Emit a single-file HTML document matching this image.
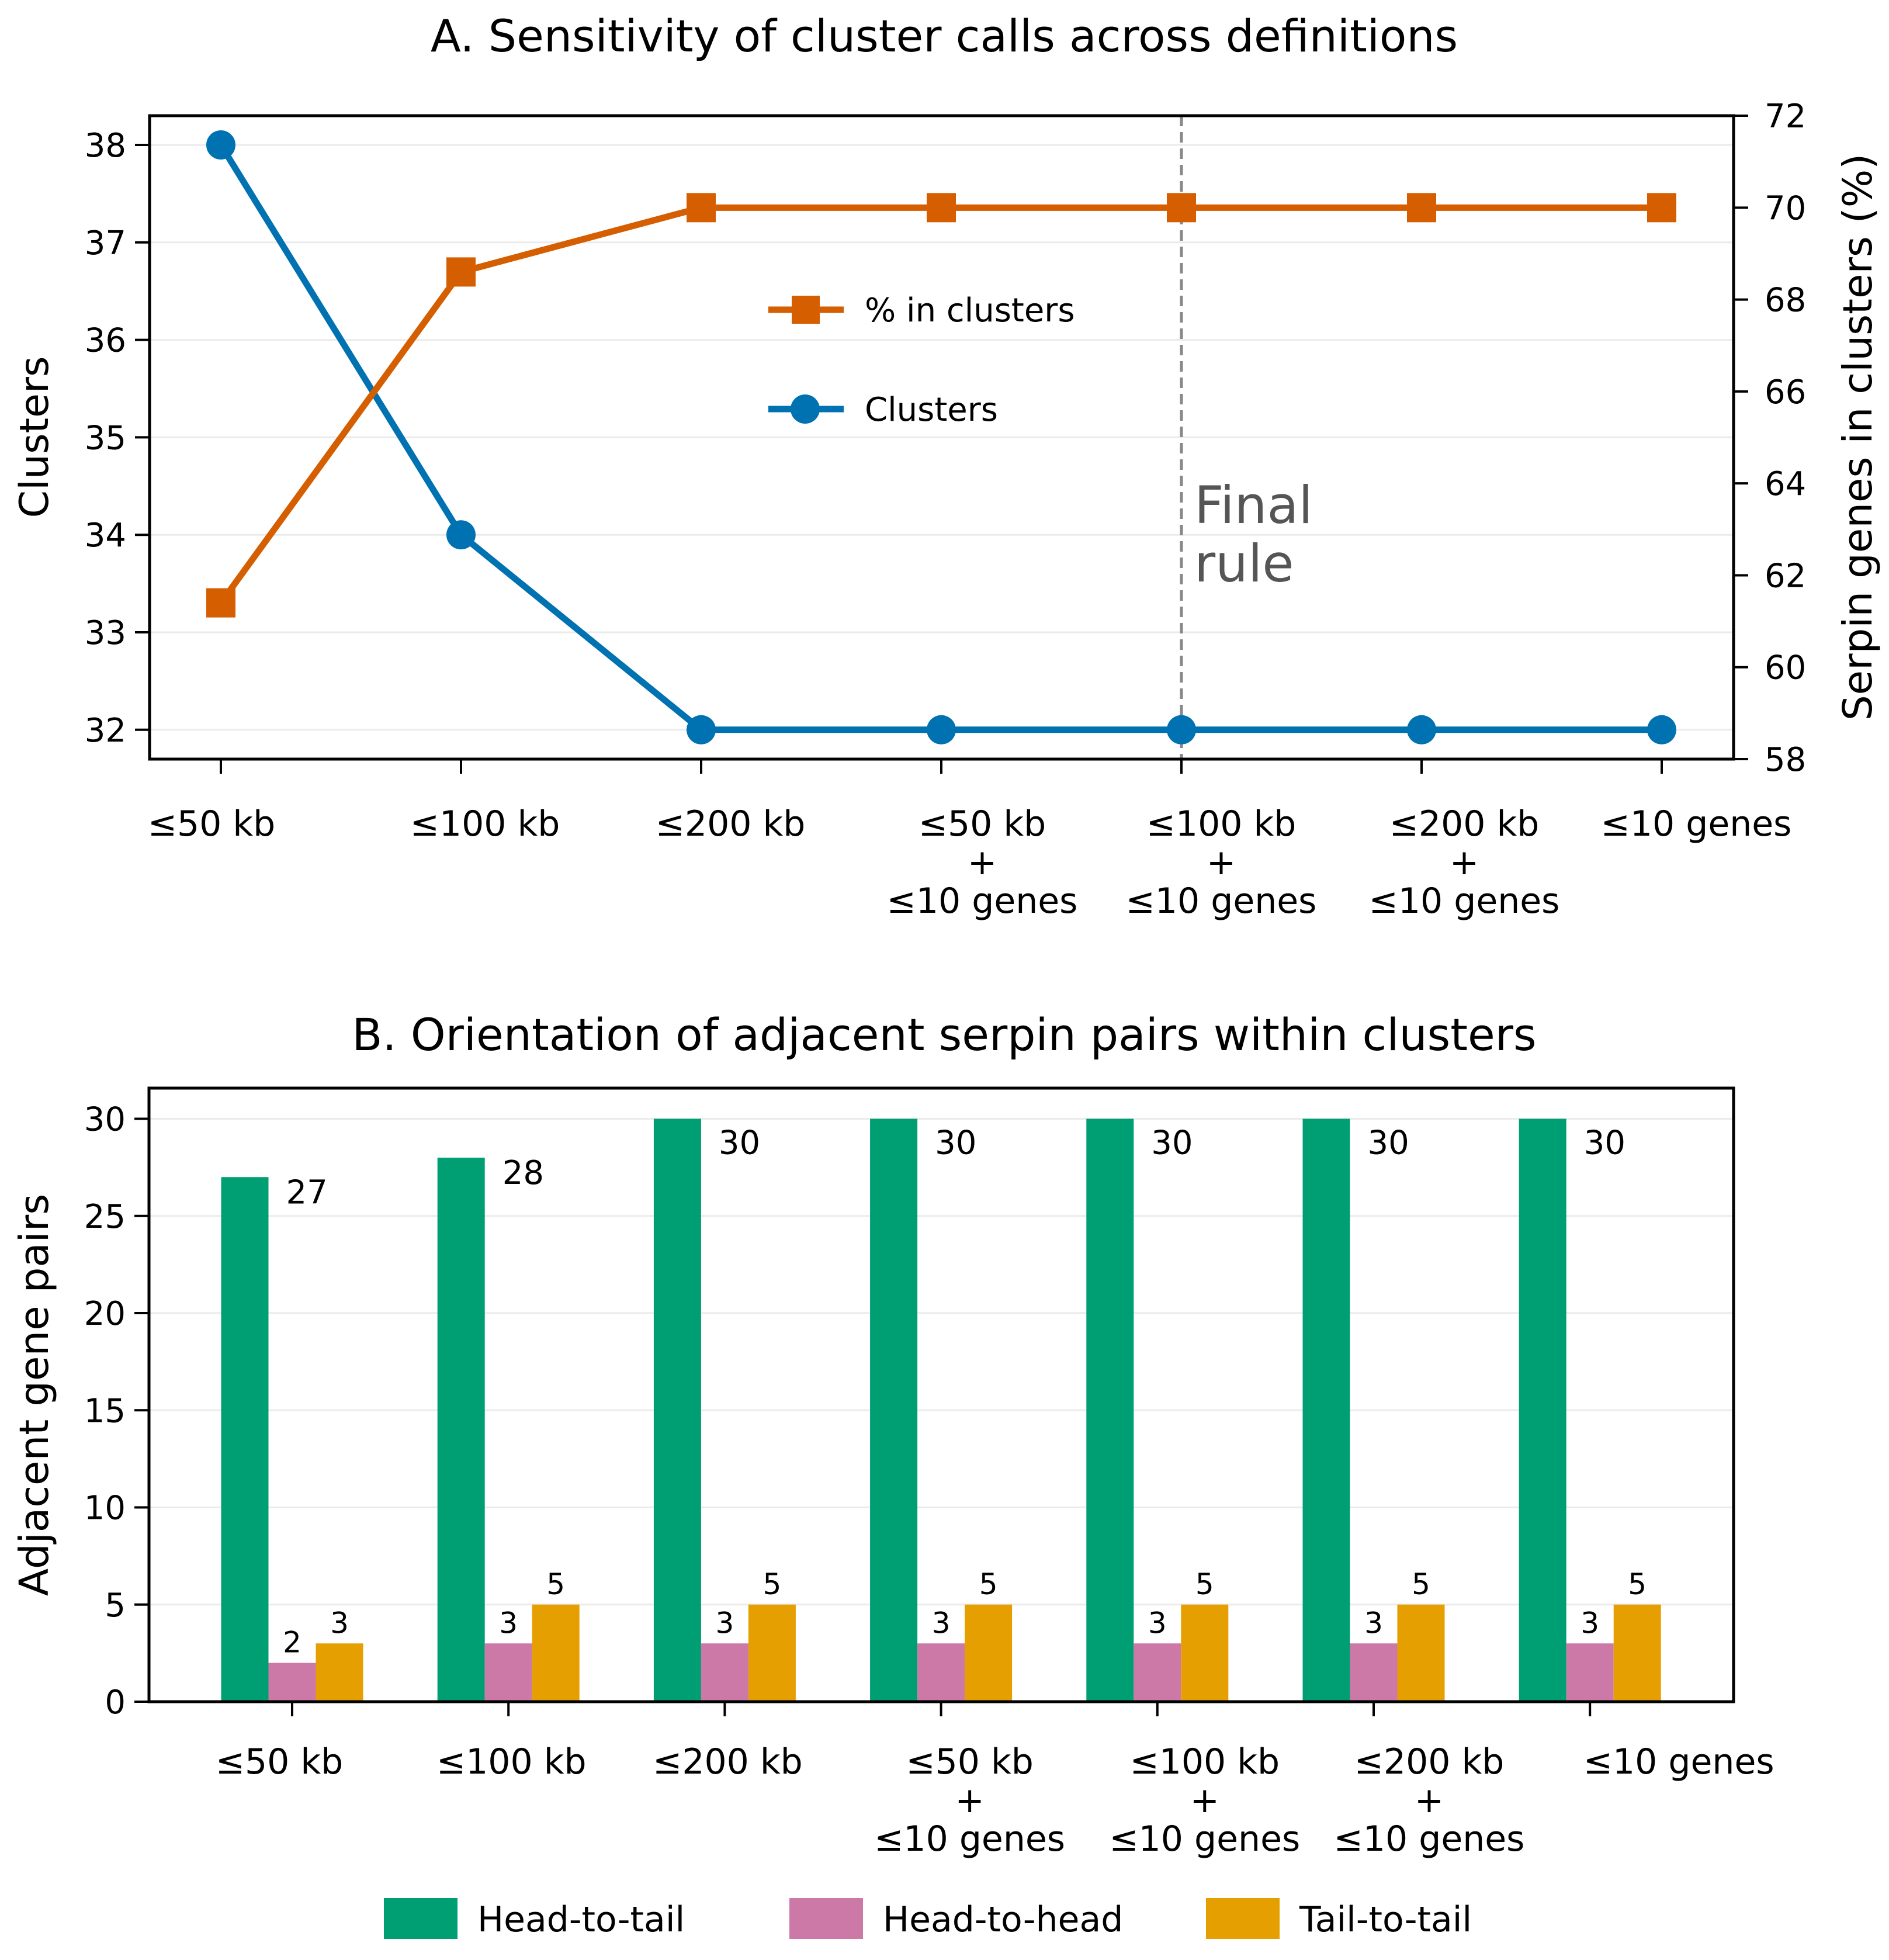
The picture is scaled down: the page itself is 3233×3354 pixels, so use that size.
<!DOCTYPE html>
<html><head><meta charset="utf-8"><style>
html,body{margin:0;padding:0;background:#fff}
svg{display:block}
text{font-family:"DejaVu Sans","Liberation Sans",sans-serif;fill:#000}
</style></head><body>
<svg id="fig" width="3233" height="3354" viewBox="0 0 3233 3354" xmlns="http://www.w3.org/2000/svg"></svg>
<script>
const categories = ["≤50 kb","≤100 kb","≤200 kb","≤50 kb|+|≤10 genes","≤100 kb|+|≤10 genes","≤200 kb|+|≤10 genes","≤10 genes"];
const clusterCounts = [38,34,32,32,32,32,32];
const pctInClusters = [61.4,68.6,70,70,70,70,70];
const leftTicks = [32,33,34,35,36,37,38];
const rightTicks = [58,60,62,64,66,68,70,72];
const headToTail = [27,28,30,30,30,30,30];
const headToHead = [2,3,3,3,3,3,3];
const tailToTail = [3,5,5,5,5,5,5];
const barTicks = [0,5,10,15,20,25,30];

const NS="http://www.w3.org/2000/svg";
const svg=document.getElementById('fig');
function el(tag,attrs,parent,txt){const e=document.createElementNS(NS,tag);for(const k in attrs)e.setAttribute(k,attrs[k]);if(txt!==undefined)e.textContent=txt;(parent||svg).appendChild(e);return e;}

// ---------- Panel A ----------
const A={l:256,r:2967,t:198,b:1299};
const xA=i=>378+i*411;
const yL=v=>248+(38-v)*166.8;
const yR=v=>1299-(v-58)*78.64;
const gA=el('g',{});


let t=el('text',{x:1616,y:88,'font-size':76,'text-anchor':'middle'},gA,'A. Sensitivity of cluster calls across definitions');

leftTicks.forEach(v=>{
  let g=el('line',{x1:A.l,x2:A.r,y1:yL(v),y2:yL(v),stroke:'#ebebeb','stroke-width':3},gA);
  
  el('line',{x1:A.l-25,x2:A.l,y1:yL(v),y2:yL(v),stroke:'#000','stroke-width':4},gA);
  let tt=el('text',{x:A.l-40,y:yL(v)+20,'font-size':56,'text-anchor':'end'},gA,String(v));
  
});
rightTicks.forEach(v=>{
  el('line',{x1:A.r,x2:A.r+25,y1:yR(v),y2:yR(v),stroke:'#000','stroke-width':4},gA);
  let tt=el('text',{x:A.r+53,y:yR(v)+20,'font-size':56},gA,String(v));
  
});
let fr=el('line',{x1:xA(4),x2:xA(4),y1:A.t,y2:A.b,stroke:'#888','stroke-width':5,'stroke-dasharray':'18,10'},gA);

let ft=el('text',{x:xA(4)+22,y:895,'font-size':88,'font-family':'Liberation Sans'},gA,'Final');

ft.style.fill='#555';
let ft2=el('text',{x:xA(4)+22,y:995,'font-size':88,'font-family':'Liberation Sans'},gA,'rule');ft2.style.fill='#555';

let pb=el('polyline',{points:clusterCounts.map((v,i)=>xA(i)+','+yL(v)).join(' '),fill:'none',stroke:'#0072B2','stroke-width':11},gA);

let po=el('polyline',{points:pctInClusters.map((v,i)=>xA(i)+','+yR(v)).join(' '),fill:'none',stroke:'#D55E00','stroke-width':11},gA);

clusterCounts.forEach((v,i)=>{let c=el('circle',{cx:xA(i),cy:yL(v),r:25,fill:'#0072B2'},gA);
  });
pctInClusters.forEach((v,i)=>{let c=el('rect',{x:xA(i)-25,y:yR(v)-25,width:50,height:50,fill:'#D55E00'},gA);
  });
let fa=el('rect',{x:A.l,y:A.t,width:A.r-A.l,height:A.b-A.t,fill:'none',stroke:'#000','stroke-width':5},gA);

const labelDxA=[-16,41,50,70,68,73,59];
categories.forEach((c,i)=>{
  el('line',{x1:xA(i),x2:xA(i),y1:A.b,y2:A.b+25,stroke:'#000','stroke-width':4},gA);
  c.split('|').forEach((ln,j)=>{let tt=el('text',{x:xA(i)+labelDxA[i],y:1430+j*66,'font-size':60,'text-anchor':'middle','font-family':'Liberation Sans'},gA,ln);
    });
});
let ly=el('text',{transform:'translate(82,748) rotate(-90)','font-size':68,'text-anchor':'middle','font-family':'Liberation Sans'},gA,'Clusters');

let ry=el('text',{transform:'translate(3203,748) rotate(-90)','font-size':69,'text-anchor':'middle','font-family':'Liberation Sans'},gA,'Serpin genes in clusters (%)');

let le1=el('g',{},gA);
el('line',{x1:1315,x2:1444,y1:530,y2:530,stroke:'#D55E00','stroke-width':11},le1);
el('rect',{x:1355,y:506,width:48,height:48,fill:'#D55E00'},le1);
el('text',{x:1480,y:550,'font-size':56},le1,'% in clusters');
let le2=el('g',{},gA);
el('line',{x1:1315,x2:1444,y1:700,y2:700,stroke:'#0072B2','stroke-width':11},le2);
el('circle',{cx:1378,cy:700,r:25,fill:'#0072B2'},le2);
el('text',{x:1480,y:720,'font-size':56},le2,'Clusters');

// ---------- Panel B ----------
const B={l:255,r:2967,t:1862,b:2912};
const xB=i=>500+i*370.2;
const yB=v=>2912-v*33.25;
const bw=81;
const gB=el('g',{});

t=el('text',{x:1616,y:1797,'font-size':76,'text-anchor':'middle'},gB,'B. Orientation of adjacent serpin pairs within clusters');

barTicks.forEach(v=>{
  let g=el('line',{x1:B.l,x2:B.r,y1:yB(v),y2:yB(v),stroke:'#ebebeb','stroke-width':3},gB);
  
  el('line',{x1:B.l-25,x2:B.l,y1:yB(v),y2:yB(v),stroke:'#000','stroke-width':4},gB);
  let tt=el('text',{x:B.l-40,y:yB(v)+20,'font-size':56,'text-anchor':'end'},gB,String(v));
  
});
const series=[[headToTail,'#009E73','head-to-tail'],[headToHead,'#CC79A7','head-to-head'],[tailToTail,'#E69F00','tail-to-tail']];
categories.forEach((c,i)=>{
  series.forEach((s,k)=>{
    const v=s[0][i];const x=xB(i)+(k-1)*bw-bw/2;
    let r=el('rect',{x:x,y:yB(v),width:bw,height:yB(0)-yB(v),fill:s[1]},gB);
    
    let tt;
    if(k===0){tt=el('text',{x:x+bw+30,y:yB(v)+(v>=30?60:45),'font-size':56},gB,String(v));}
    else{tt=el('text',{x:x+bw/2,y:yB(v)-18,'font-size':50,'text-anchor':'middle'},gB,String(v));}
    
  });
});
let fb=el('rect',{x:B.l,y:B.t,width:B.r-B.l,height:B.b-B.t,fill:'none',stroke:'#000','stroke-width':5},gB);

const labelDxB=[-22,5,5,49,81,95,152];
categories.forEach((c,i)=>{
  el('line',{x1:xB(i),x2:xB(i),y1:B.b,y2:B.b+25,stroke:'#000','stroke-width':4},gB);
  c.split('|').forEach((ln,j)=>{let tt=el('text',{x:xB(i)+labelDxB[i],y:3035+j*66,'font-size':60,'text-anchor':'middle','font-family':'Liberation Sans'},gB,ln);
    });
});
ly=el('text',{transform:'translate(82,2387) rotate(-90)','font-size':69,'text-anchor':'middle','font-family':'Liberation Sans'},gB,'Adjacent gene pairs');

const legX=[657,1351,2064];const legT=['Head-to-tail','Head-to-head','Tail-to-tail'];
series.forEach((s,k)=>{
  let g=el('g',{},gB);
  el('rect',{x:legX[k],y:3248,width:126,height:70,fill:s[1]},g);
  el('text',{x:legX[k]+160,y:3305,'font-size':60,'font-family':'Liberation Sans'},g,legT[k]);
});
</script>
</body></html>
